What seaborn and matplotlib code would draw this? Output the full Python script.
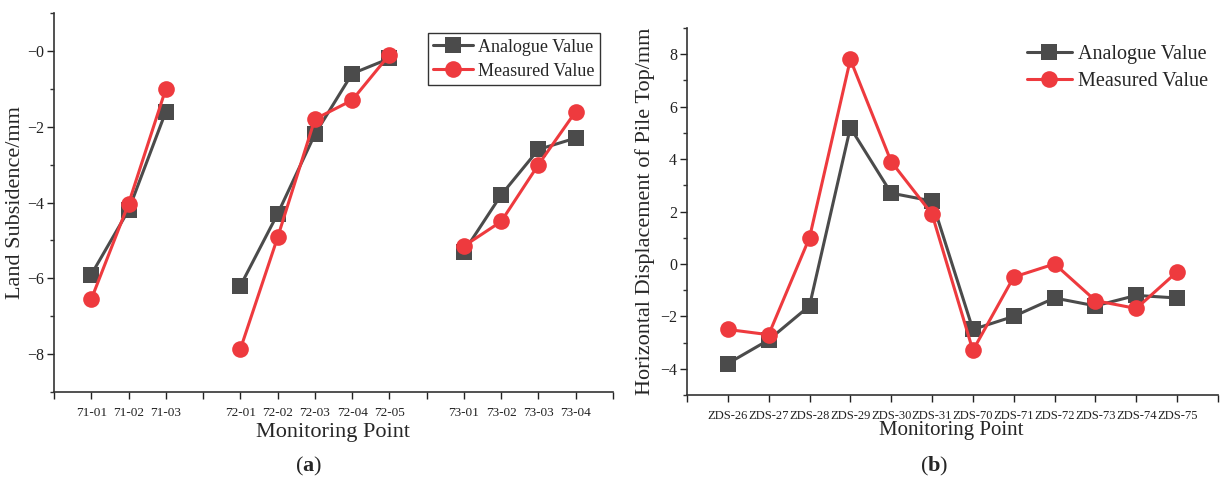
import matplotlib
matplotlib.use("Agg")
import matplotlib.pyplot as plt
from matplotlib.ticker import MultipleLocator, FixedLocator
import seaborn as sns
import pandas as pd

# ---- data: (a) land subsidence ----
points_a = ["71-01", "71-02", "71-03",
            "72-01", "72-02", "72-03", "72-04", "72-05",
            "73-01", "73-02", "73-03", "73-04"]
groups_a = ["71", "71", "71", "72", "72", "72", "72", "72", "73", "73", "73", "73"]
pos_a = [1, 2, 3, 5, 6, 7, 8, 9, 11, 12, 13, 14]
analogue_a = [-5.9, -4.2, -1.6, -6.2, -4.3, -2.2, -0.6, -0.2, -5.3, -3.8, -2.6, -2.3]
measured_a = [-6.55, -4.03, -1.0, -7.87, -4.92, -1.8, -1.3, -0.1, -5.15, -4.5, -3.0, -1.6]

# ---- data: (b) horizontal displacement of pile top ----
points_b = ["ZDS-26", "ZDS-27", "ZDS-28", "ZDS-29", "ZDS-30", "ZDS-31",
            "ZDS-70", "ZDS-71", "ZDS-72", "ZDS-73", "ZDS-74", "ZDS-75"]
analogue_b = [-3.8, -2.9, -1.6, 5.2, 2.7, 2.4, -2.5, -2.0, -1.3, -1.6, -1.2, -1.3]
measured_b = [-2.5, -2.7, 1.0, 7.8, 3.9, 1.9, -3.3, -0.5, 0.0, -1.4, -1.7, -0.3]

series_names = ["Analogue Value", "Measured Value"]
palette = {"Analogue Value": "#4b4b4b", "Measured Value": "#ee3a3e"}
markers = {"Analogue Value": "s", "Measured Value": "o"}

df_a = pd.concat([
    pd.DataFrame({"x": pos_a, "y": analogue_a, "group": groups_a, "series": series_names[0]}),
    pd.DataFrame({"x": pos_a, "y": measured_a, "group": groups_a, "series": series_names[1]}),
], ignore_index=True)

pos_b = list(range(1, len(points_b) + 1))
df_b = pd.concat([
    pd.DataFrame({"x": pos_b, "y": analogue_b, "group": "all", "series": series_names[0]}),
    pd.DataFrame({"x": pos_b, "y": measured_b, "group": "all", "series": series_names[1]}),
], ignore_index=True)

sns.set_theme(style="ticks")
plt.rcParams["font.family"] = ["Liberation Serif", "DejaVu Serif"]
plt.rcParams["mathtext.fontset"] = "custom"
plt.rcParams["mathtext.rm"] = "Liberation Serif"
plt.rcParams["mathtext.bf"] = "Liberation Serif:bold"

fig = plt.figure(figsize=(12.23, 4.82), dpi=100)
ax1 = fig.add_axes([0.0442, 0.1867, 0.4570, 0.7863])
ax2 = fig.add_axes([0.5617, 0.1805, 0.4342, 0.7614])

line_kw = dict(x="x", y="y", hue="series", style="series", units="group",
               estimator=None, palette=palette, markers=markers, dashes=False,
               hue_order=series_names, style_order=series_names, sort=False,
               linewidth=2.2, markersize=12, markeredgewidth=0)

sns.lineplot(data=df_a, ax=ax1, **line_kw)
sns.lineplot(data=df_b, ax=ax2, **line_kw)

spine_color = "#333333"
for ax in (ax1, ax2):
    sns.despine(ax=ax)
    for s in ("left", "bottom"):
        ax.spines[s].set_color(spine_color)
        ax.spines[s].set_linewidth(1.2)
    ax.tick_params(axis="both", which="both", direction="out", color=spine_color, width=1.0)
    ax.tick_params(axis="both", which="major", length=5)
    ax.tick_params(axis="y", which="minor", length=3)
    ax.tick_params(axis="y", labelsize=11.5, colors="#222222", pad=2)
    ax.tick_params(axis="x", colors="#222222", pad=6)
    ax.set_xlabel("")
    ax.set_ylabel("")
ax1.tick_params(axis="x", labelsize=9.5)
ax2.tick_params(axis="x", labelsize=9)

# panel (a) axes
ax1.set_xlim(0, 15)
ax1.set_ylim(-9, 1)
ax1.xaxis.set_major_locator(FixedLocator(range(0, 16)))
labels_a = [""] * 16
for p, name in zip(pos_a, points_a):
    labels_a[p] = name
ax1.set_xticklabels(labels_a)
ax1.set_yticks([-8, -6, -4, -2, 0])
ax1.set_yticklabels(["\u22128", "\u22126", "\u22124", "\u22122", "\u22120"])
ax1.yaxis.set_minor_locator(MultipleLocator(1))
ax1.set_ylabel("Land Subsidence/mm", fontsize=16, labelpad=2)

# panel (b) axes
ax2.set_xlim(0, 13)
ax2.set_ylim(-5, 9)
ax2.xaxis.set_major_locator(FixedLocator(range(0, 14)))
ax2.set_xticklabels([""] + points_b + [""])
ax2.yaxis.set_minor_locator(MultipleLocator(1))
ax2.set_yticks([-4, -2, 0, 2, 4, 6, 8])
ax2.set_ylabel("Horizontal Displacement of Pile Top/mm", fontsize=16, labelpad=4)

# axis titles and panel tags
fig.text(333 / 1223, 1 - 432 / 482, "Monitoring Point", fontsize=16, ha="center", va="center")
fig.text(951 / 1223, 1 - 430 / 482, "Monitoring Point", fontsize=15, ha="center", va="center")
fig.text(309 / 1223, 1 - 466 / 482, r"($\mathbf{a}$)", fontsize=16, ha="center", va="center")
fig.text(934 / 1223, 1 - 466 / 482, r"($\mathbf{b}$)", fontsize=16, ha="center", va="center")

# legends
leg1 = ax1.legend(loc="upper right", bbox_to_anchor=(0.977, 0.947), borderaxespad=0,
                  fontsize=13, frameon=True, fancybox=False, edgecolor="black",
                  handlelength=2.2, handletextpad=0.3, borderpad=0.3, labelspacing=0.4)
leg1.get_frame().set_linewidth(1.0)
leg2 = ax2.legend(loc="upper right", bbox_to_anchor=(0.996, 0.975), borderaxespad=0,
                  fontsize=14.5, frameon=False, handlelength=2.2, handletextpad=0.3,
                  labelspacing=0.4)

fig.savefig("out.png", dpi=100)
